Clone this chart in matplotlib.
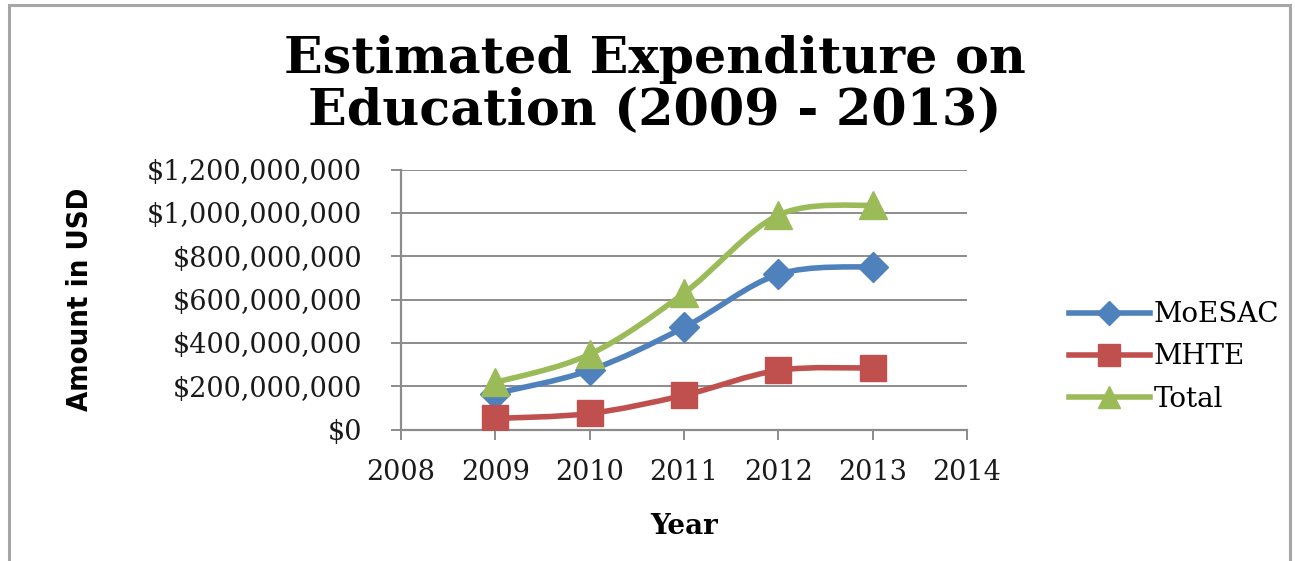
import numpy as np
import matplotlib
matplotlib.use('Agg')
import matplotlib.pyplot as plt
from matplotlib.path import Path
from matplotlib.patches import PathPatch, Rectangle
from matplotlib.lines import Line2D
from matplotlib.ticker import FuncFormatter

# data (USD)
years = [2009, 2010, 2011, 2012, 2013]
moesac = [166e6, 273e6, 471e6, 716e6, 752e6]
mhte = [51e6, 74e6, 158e6, 273e6, 284e6]
total = [217e6, 347e6, 629e6, 989e6, 1036e6]
series_names = ['MoESAC', 'MHTE', 'Total']
colors = ['#4F81BD', '#C0504D', '#9BBB59']
markers = ['D', 's', '^']
msizes = [15, 19, 20]

plt.rcParams['font.family'] = ['DejaVu Serif']

fig = plt.figure(figsize=(12.95, 5.61), dpi=100)
W, H = 1295, 561
ax = fig.add_axes([401 / W, 1 - 429.5 / H, 566 / W, 260 / H])


def smooth_path(x, y):
    # excel-like smoothed line: catmull-rom converted to cubic bezier
    pts = np.column_stack([x, y]).astype(float)
    n = len(pts)
    verts = [pts[0]]
    codes = [Path.MOVETO]
    for i in range(n - 1):
        p0 = pts[max(i - 1, 0)]
        p1 = pts[i]
        p2 = pts[i + 1]
        p3 = pts[min(i + 2, n - 1)]
        c1 = p1 + (p2 - p0) / 6
        c2 = p2 - (p3 - p1) / 6
        verts += [c1, c2, p2]
        codes += [Path.CURVE4] * 3
    return Path(verts, codes)


for vals, c, m, ms in zip([moesac, mhte, total], colors, markers, msizes):
    ax.add_patch(PathPatch(smooth_path(years, vals), fill=False, edgecolor=c,
                           lw=4, capstyle='round', joinstyle='round', zorder=3))
    ax.plot(years, vals, ls='none', marker=m, ms=ms, color=c, mec=c, zorder=4)

ax.set_xlim(2008, 2014)
ax.set_ylim(0, 1.2e9)
ax.set_xticks(range(2008, 2015))
ax.set_yticks(np.arange(0, 1.2e9 + 1, 2e8))
ax.yaxis.set_major_formatter(FuncFormatter(lambda v, p: '${:,.0f}'.format(v)))
ax.grid(axis='y', color='#8C8C8C', lw=1.4)
ax.set_axisbelow(True)
for s in ['top', 'right']:
    ax.spines[s].set_visible(False)
ax.spines['left'].set_color('#8C8C8C')
ax.spines['bottom'].set_color('#8C8C8C')
ax.spines['left'].set_linewidth(1.6)
ax.spines['bottom'].set_linewidth(1.6)
ax.tick_params(axis='both', colors='#8C8C8C', length=7, width=1.4, labelsize=19.5,
               labelcolor='#1a1a1a')
ax.tick_params(axis='y', pad=21)
ax.tick_params(axis='x', pad=14)

ax.set_xlabel('Year', fontsize=20, fontweight='bold', labelpad=20)
fig.text(80 / W, 1 - 299 / H, 'Amount in USD', rotation=90, ha='center', va='center',
         fontsize=21, fontweight='bold', fontstretch='condensed',
         family=['DejaVu Sans'])

fig.text(655 / W, 1 - 60 / H, 'Estimated Expenditure on', ha='center', va='center',
         fontsize=36.5, fontweight='bold')
fig.text(655 / W, 1 - 112 / H, 'Education (2009 - 2013)', ha='center', va='center',
         fontsize=36.5, fontweight='bold')

handles = [Line2D([], [], color=c, lw=4, marker=m, ms=ms * 0.8)
           for c, m, ms in zip(colors, markers, msizes)]
fig.legend(handles, series_names, loc='center left', bbox_to_anchor=(1044 / W, 1 - 357 / H),
           frameon=False, fontsize=20, handlelength=2.9, handletextpad=0.15,
           labelspacing=0.55)

# outer chart border
fig.patches.append(Rectangle((9 / W, -0.05), 1281 / W, 1.05 - 5 / H, transform=fig.transFigure,
                             fill=False, edgecolor='#A6A6A6', lw=2.2))

fig.savefig('out.png', dpi=100)
